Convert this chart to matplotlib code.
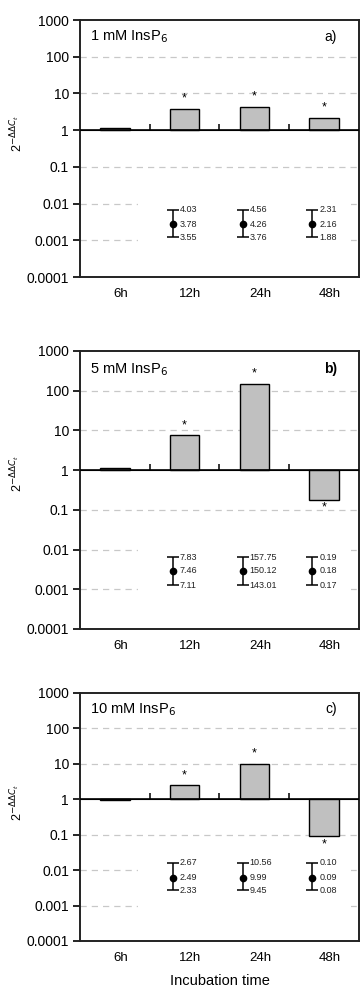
import matplotlib
matplotlib.use("Agg")
import matplotlib.pyplot as plt
import numpy as np
from matplotlib.patches import Rectangle

plt.rcParams['font.family'] = ['Liberation Sans', 'DejaVu Sans']

# ---------------------------------------------------------------
# Data
times = ["6h", "12h", "24h", "48h"]
titles = ["1 mM InsP$_6$", "5 mM InsP$_6$", "10 mM InsP$_6$"]
panel_tags = ["a)", "b)", "c)"]

fold_a = [1.15, 3.78, 4.26, 2.16]
fold_b = [1.15, 7.46, 150.12, 0.18]
fold_c = [0.93, 2.49, 9.99, 0.09]

# upper / middle / lower values written next to the error-bar symbols (12h, 24h, 48h)
labels_a = [["4.03", "3.78", "3.55"], ["4.56", "4.26", "3.76"], ["2.31", "2.16", "1.88"]]
labels_b = [["7.83", "7.46", "7.11"], ["157.75", "150.12", "143.01"], ["0.19", "0.18", "0.17"]]
labels_c = [["2.67", "2.49", "2.33"], ["10.56", "9.99", "9.45"], ["0.10", "0.09", "0.08"]]

# position of the error-bar symbols (center, upper cap, lower cap)
symbol_a = [0.0027, 0.0069, 0.0012]
symbol_b = [0.0029, 0.0063, 0.00126]
symbol_c = [0.006, 0.016, 0.0027]

significant = [False, True, True, True]

folds = [fold_a, fold_b, fold_c]
labels = [labels_a, labels_b, labels_c]
symbols = [symbol_a, symbol_b, symbol_c]

# axes boxes in figure fraction [left, bottom, width, height]
boxes = [[0.2222, 0.7196, 0.775, 0.2601],
         [0.2222, 0.3634, 0.775, 0.2814],
         [0.2222, 0.0476, 0.775, 0.2510]]

fig = plt.figure(figsize=(3.6, 9.88), dpi=100)
x = np.arange(len(times))

for k in range(3):
    ax = fig.add_axes(boxes[k])
    ax.set_yscale('log')
    ax.set_ylim(1e-4, 1e3)
    ax.set_xlim(-0.5, 3.5)

    # dashed grid lines
    for g in [100, 10, 0.1, 0.01, 0.001]:
        ax.axhline(g, color='#c8c8c8', lw=0.9, ls=(0, (5, 4)), zorder=0)
    # white box behind the error-bar key
    ax.add_patch(Rectangle((0.33, 0.0005), 3.05, 0.018, facecolor='white',
                           edgecolor='none', zorder=1))

    vals = np.array(folds[k])
    ax.bar(x, vals - 1, bottom=1, width=0.42, color='#c0c0c0',
           edgecolor='black', linewidth=1.0, zorder=2)
    ax.axhline(1, color='black', lw=1.2, zorder=3)

    # significance stars
    for i, v in enumerate(vals):
        if significant[i]:
            off = 3 if v > 1 else -10
            ax.annotate("*", (x[i], v), xytext=(0, off), textcoords='offset points',
                        ha='center', va='bottom', fontsize=9)

    # error-bar key with values
    c, up, lo = symbols[k]
    for j in range(3):
        xi = x[j + 1] - 0.17
        ax.errorbar([xi], [c], yerr=[[c - lo], [up - c]], fmt='o', color='black',
                    ms=4.5, capsize=4, elinewidth=1.1, capthick=1.1, zorder=4)
        for t, yv in zip(labels[k][j], [up, c, lo]):
            ax.text(xi + 0.1, yv, t, fontsize=6.5, va='center', ha='left', color='#222222')

    # ticks on the line at 1
    sec = ax.secondary_xaxis(4 / 7)
    sec.set_xticks([0.5, 1.5, 2.5])
    sec.set_xticklabels([])
    sec.tick_params(direction='out', length=4, width=1.1)
    sec.spines['bottom'].set_visible(False)

    ax.set_xticks(x + 0.08)
    ax.set_xticklabels(times, fontsize=9.5)
    ax.tick_params(axis='x', length=0, pad=8)
    ax.set_yticks([1e-4, 1e-3, 1e-2, 1e-1, 1, 10, 100, 1000])
    ax.set_yticklabels(["0.0001", "0.001", "0.01", "0.1", "1", "10", "100", "1000"],
                       fontsize=10)
    ax.minorticks_off()
    ax.tick_params(axis='y', length=5, width=1.2, pad=3)
    for s in ax.spines.values():
        s.set_linewidth(1.4)
        s.set_color('#222222')

    ax.set_ylabel(r"2$^{-\Delta\Delta C_t}$", fontsize=9)
    ax.yaxis.set_label_coords(-0.195, 0.56)

    ax.text(0.036, 0.934, titles[k], transform=ax.transAxes, fontsize=10.5, va='center')
    ax.text(0.92, 0.934, panel_tags[k], transform=ax.transAxes, fontsize=10,
            va='center', ha='right', fontweight='bold' if k == 1 else 'normal')

    if k == 2:
        ax.set_xlabel("Incubation time", fontsize=10.5, labelpad=7)

fig.savefig("out.png", dpi=100)
